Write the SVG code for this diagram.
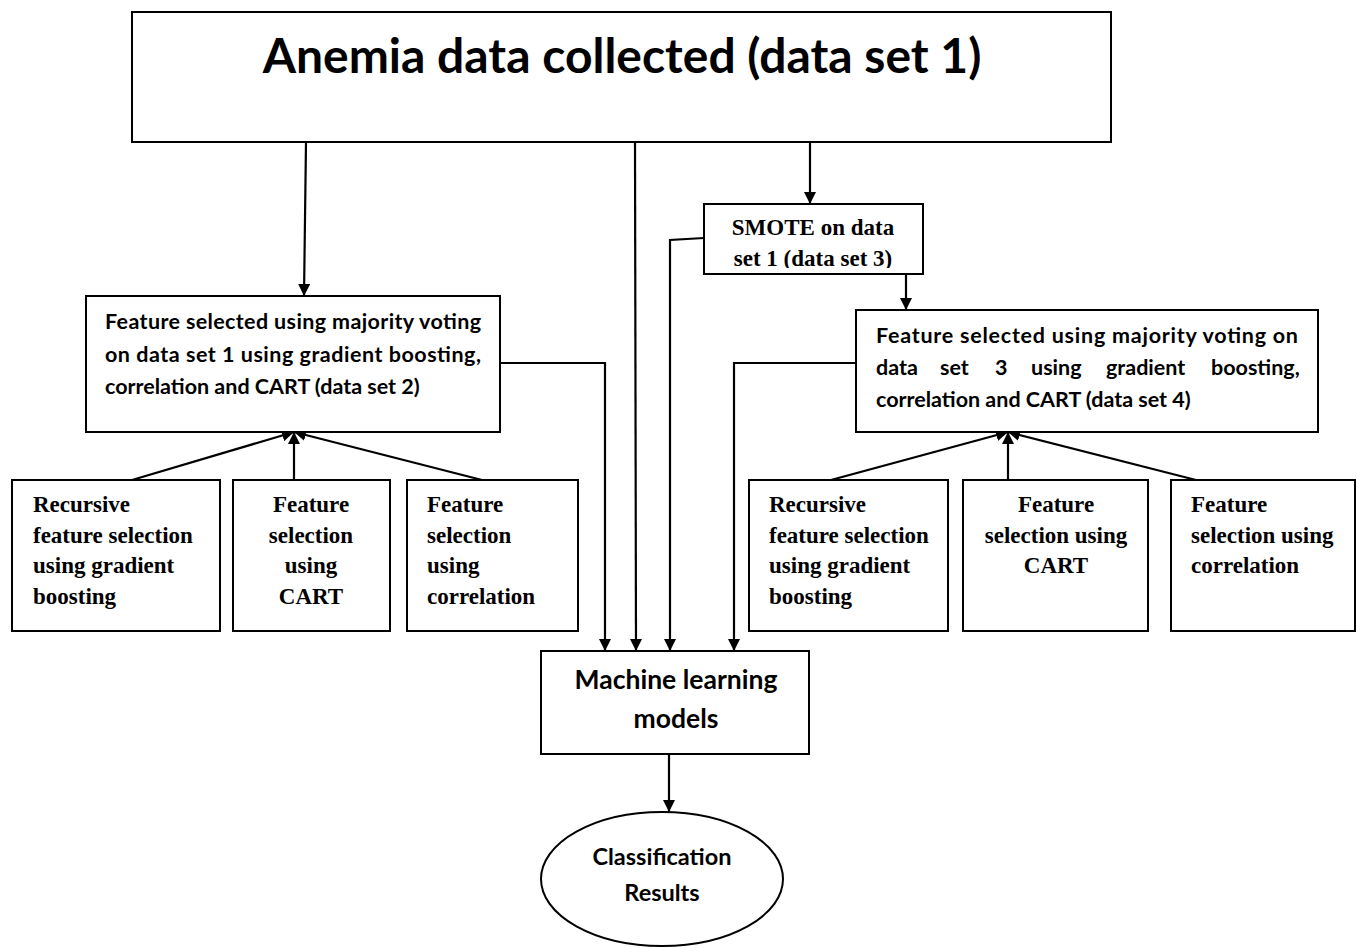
<svg xmlns="http://www.w3.org/2000/svg" width="1357" height="948" viewBox="0 0 1357 948">
<style>
.box{fill:#fff;stroke:#000;stroke-width:2}
.ln{fill:none;stroke:#000;stroke-width:2.2}
.sans{font-family:Lato,"Open Sans","Liberation Sans",sans-serif;font-weight:bold;fill:#000}
.serif{font-family:"Liberation Serif","Times New Roman",serif;font-weight:bold;fill:#000;font-size:23px}
</style>
<defs>
<marker id="ah" viewBox="0 0 12 12" refX="12" refY="6" markerWidth="12" markerHeight="12" markerUnits="userSpaceOnUse" orient="auto">
<path d="M0,0 L12,6 L0,12 z" fill="#000"/>
</marker>
</defs>
<rect width="1357" height="948" fill="#fff"/>
<g id="connectors">
<line class="ln" x1="306" y1="142" x2="304" y2="296" marker-end="url(#ah)"/>
<line class="ln" x1="635" y1="142" x2="636" y2="651" marker-end="url(#ah)"/>
<line class="ln" x1="810" y1="142" x2="810" y2="204" marker-end="url(#ah)"/>
<polyline class="ln" points="704,238 670,240 670,651" marker-end="url(#ah)"/>
<line class="ln" x1="906" y1="274" x2="906" y2="310" marker-end="url(#ah)"/>
<polyline class="ln" points="500,363 605,363 605,651" marker-end="url(#ah)"/>
<polyline class="ln" points="856,363 734,363 734,651" marker-end="url(#ah)"/>
<line class="ln" x1="132" y1="480" x2="294" y2="432" marker-end="url(#ah)"/>
<line class="ln" x1="294" y1="480" x2="294" y2="432" marker-end="url(#ah)"/>
<line class="ln" x1="482" y1="480" x2="294" y2="432" marker-end="url(#ah)"/>
<line class="ln" x1="831" y1="480" x2="1008" y2="432" marker-end="url(#ah)"/>
<line class="ln" x1="1008" y1="480" x2="1008" y2="432" marker-end="url(#ah)"/>
<line class="ln" x1="1196" y1="480" x2="1008" y2="432" marker-end="url(#ah)"/>
<line class="ln" x1="669" y1="754" x2="669" y2="812" marker-end="url(#ah)"/>
</g>
<g id="top">
<rect class="box" x="132" y="12" width="979" height="130"/>
<text class="sans" x="622" y="73" font-size="48" text-anchor="middle">Anemia data collected (data set 1)</text>
</g>
<g id="smote">
<rect class="box" x="704" y="204" width="219" height="70"/>
<text class="serif" x="813" y="235" text-anchor="middle">SMOTE on data</text>
<text class="serif" x="813" y="266" text-anchor="middle">set 1 (data set 3)</text>
<rect x="705" y="268" width="217" height="5" fill="#fff"/>
</g>
<g id="fs-left">
<rect class="box" x="86" y="296" width="414" height="136"/>
<text class="sans" font-size="21.5" x="105" y="329" textLength="376" lengthAdjust="spacing">Feature selected using majority voting</text>
<text class="sans" font-size="21.5" x="105" y="362" textLength="376" lengthAdjust="spacing">on data set 1 using gradient boosting,</text>
<text class="sans" font-size="21.5" x="105" y="394">correlation and CART (data set 2)</text>
</g>
<g id="fs-right">
<rect class="box" x="856" y="310" width="462" height="122"/>
<text class="sans" font-size="21.5" x="876" y="343" textLength="422" lengthAdjust="spacing">Feature selected using majority voting on</text>
<text class="sans" font-size="21.5" y="375"><tspan x="876">data</tspan><tspan x="940">set</tspan><tspan x="995">3</tspan><tspan x="1031">using</tspan><tspan x="1106">gradient</tspan><tspan x="1211">boosting,</tspan></text>
<text class="sans" font-size="21.5" x="876" y="407">correlation and CART (data set 4)</text>
</g>
<g id="l-rfs">
<rect class="box" x="12" y="480" width="208" height="151"/>
<text class="serif" x="33" y="512">Recursive</text>
<text class="serif" x="33" y="543">feature selection</text>
<text class="serif" x="33" y="573">using gradient</text>
<text class="serif" x="33" y="604">boosting</text>
</g>
<g id="l-cart">
<rect class="box" x="233" y="480" width="157" height="151"/>
<text class="serif" x="311" y="512" text-anchor="middle">Feature</text>
<text class="serif" x="311" y="543" text-anchor="middle">selection</text>
<text class="serif" x="311" y="573" text-anchor="middle">using</text>
<text class="serif" x="311" y="604" text-anchor="middle">CART</text>
</g>
<g id="l-corr">
<rect class="box" x="407" y="480" width="171" height="151"/>
<text class="serif" x="427" y="512">Feature</text>
<text class="serif" x="427" y="543">selection</text>
<text class="serif" x="427" y="573">using</text>
<text class="serif" x="427" y="604">correlation</text>
</g>
<g id="r-rfs">
<rect class="box" x="749" y="480" width="199" height="151"/>
<text class="serif" x="769" y="512">Recursive</text>
<text class="serif" x="769" y="543">feature selection</text>
<text class="serif" x="769" y="573">using gradient</text>
<text class="serif" x="769" y="604">boosting</text>
</g>
<g id="r-cart">
<rect class="box" x="963" y="480" width="185" height="151"/>
<text class="serif" x="1056" y="512" text-anchor="middle">Feature</text>
<text class="serif" x="1056" y="543" text-anchor="middle">selection using</text>
<text class="serif" x="1056" y="573" text-anchor="middle">CART</text>
</g>
<g id="r-corr">
<rect class="box" x="1171" y="480" width="184" height="151"/>
<text class="serif" x="1191" y="512">Feature</text>
<text class="serif" x="1191" y="543">selection using</text>
<text class="serif" x="1191" y="573">correlation</text>
</g>
<g id="ml">
<rect class="box" x="541" y="651" width="268" height="103"/>
<text class="sans" font-size="26.5" x="676" y="689" text-anchor="middle">Machine learning</text>
<text class="sans" font-size="26.5" x="676" y="728" text-anchor="middle">models</text>
</g>
<g id="results">
<ellipse class="box" cx="662" cy="879" rx="121" ry="67"/>
<text class="sans" font-size="23.5" x="662" y="865" text-anchor="middle">Classification</text>
<text class="sans" font-size="23.5" x="662" y="901" text-anchor="middle">Results</text>
</g>
</svg>
